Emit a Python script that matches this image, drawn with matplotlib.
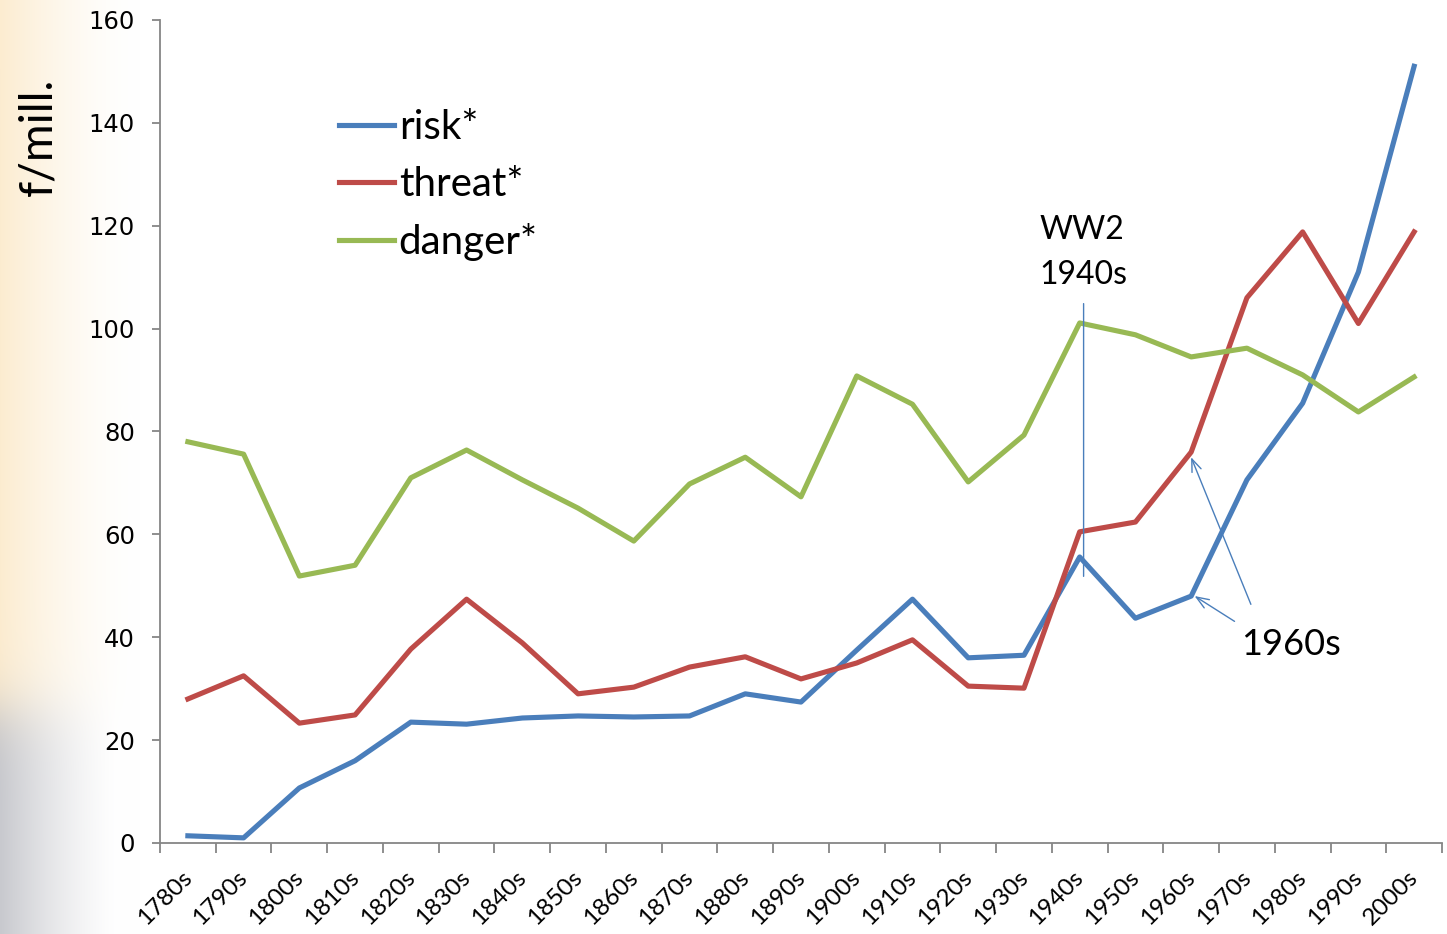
import numpy as np
import matplotlib as mpl
import matplotlib.pyplot as plt
from matplotlib.transforms import ScaledTranslation

mpl.use("agg")

decades = ["1780s", "1790s", "1800s", "1810s", "1820s", "1830s", "1840s", "1850s",
           "1860s", "1870s", "1880s", "1890s", "1900s", "1910s", "1920s", "1930s",
           "1940s", "1950s", "1960s", "1970s", "1980s", "1990s", "2000s"]
risk = [1.4, 1.0, 10.7, 16.0, 23.5, 23.1, 24.3, 24.7, 24.5, 24.7, 29.0, 27.4,
        37.5, 47.4, 36.0, 36.5, 55.6, 43.7, 48.0, 70.6, 85.5, 111.0, 151.0]
threat = [28.0, 32.5, 23.3, 24.9, 37.7, 47.4, 38.9, 29.0, 30.3, 34.2, 36.2, 31.9,
          35.0, 39.5, 30.5, 30.1, 60.5, 62.4, 76.0, 106.0, 118.8, 101.0, 118.8]
danger = [78.0, 75.6, 51.9, 54.0, 71.0, 76.4, 70.6, 65.1, 58.7, 69.8, 75.0, 67.3,
          90.8, 85.3, 70.2, 79.3, 101.1, 98.8, 94.5, 96.2, 91.0, 83.8, 90.6]
yticks = [0, 20, 40, 60, 80, 100, 120, 140, 160]

blue = "#4a7ebb"
red = "#be4b48"
green = "#98b954"
axis_grey = "#868686"

fig = plt.figure(figsize=(14.47, 9.34), dpi=100)

# faint slide background on the left edge, soft orange above, grey below
bg = fig.add_axes([0, 0, 1, 1], zorder=-10)
h, w = 934, 1447
xx = np.arange(w)[None, :].astype(float)
yy = np.arange(h)[:, None].astype(float)
top = 1 / (1 + np.exp((yy - 710) / 18.0))
fade_o = np.clip(1 - xx / 140.0, 0, 1) ** 1.6
fade_g = np.clip(1 - xx / 120.0, 0, 1) ** 1.4
orange = np.array([252, 236, 208]) / 255.0
grey = np.array([200, 201, 206]) / 255.0
img = np.ones((h, w, 3))
for c in range(3):
    img[:, :, c] -= top * fade_o * (1 - orange[c]) + (1 - top) * fade_g * (1 - grey[c])
bg.imshow(img, aspect="auto", extent=[0, 1, 0, 1])
bg.axis("off")

ax = fig.add_axes([160 / 1447, 91 / 934, 1282 / 1447, 823 / 934])
ax.patch.set_alpha(0)
x = np.arange(len(decades))
ax.plot(x, risk, color=blue, lw=3.7, label="risk*")
ax.plot(x, threat, color=red, lw=3.7, label="threat*")
ax.plot(x, danger, color=green, lw=3.7, label="danger*")

ax.set_xlim(-0.5, len(decades) - 0.5)
ax.set_ylim(0, 160)
ax.set_yticks(yticks)
ax.tick_params(axis="y", length=6, width=1.3, color=axis_grey, labelsize=17.5, pad=12)
ax.set_xticks(x)
ax.set_xticklabels(decades, rotation=45, ha="right", rotation_mode="anchor",
                   family="Lato", fontsize=17.5)
ax.tick_params(axis="x", which="major", length=0, pad=17)
shift = ScaledTranslation(-7 / 100, 0, fig.dpi_scale_trans)
for t in ax.get_xticklabels():
    t.set_transform(t.get_transform() + shift)
ax.set_xticks(np.arange(len(decades) + 1) - 0.5, minor=True)
ax.tick_params(axis="x", which="minor", length=7, width=1.3, color=axis_grey)
for s in ["top", "right"]:
    ax.spines[s].set_visible(False)
for s in ["left", "bottom"]:
    ax.spines[s].set_color(axis_grey)
    ax.spines[s].set_linewidth(1.3)

leg = ax.legend(loc="upper left", bbox_to_anchor=(0.14, 0.892), frameon=False,
                prop={"family": "Lato", "size": 29}, handlelength=1.35,
                handletextpad=0.12, labelspacing=0.5, borderpad=0, borderaxespad=0)

fig.text(38 / 1447, 1 - 137 / 934, "f/mill.", rotation=90, ha="center", va="center",
         family="Lato", fontsize=33)

# annotations
i40 = decades.index("1940s")
i60 = decades.index("1960s")
ax.annotate("", xy=(i40 + 0.07, risk[i40] - 4.3), xytext=(i40 + 0.07, 105.4),
            arrowprops=dict(arrowstyle="-", color=blue, lw=1.0))
ax.text(i40 - 0.72, 122, "WW2\n1940s", ha="left", va="top", family="Lato",
        fontsize=23, linespacing=1.6)
ax.annotate("", xy=(i60 - 0.02, threat[i60] - 0.5), xytext=(i60 + 1.09, 45.9),
            arrowprops=dict(arrowstyle="->,head_length=0.9,head_width=0.35",
                            color=blue, lw=1.0))
ax.annotate("", xy=(i60 + 0.02, risk[i60] + 0.3), xytext=(i60 + 0.82, 42.8),
            arrowprops=dict(arrowstyle="->,head_length=0.9,head_width=0.35",
                            color=blue, lw=1.0))
ax.text(i60 + 0.9, 38.5, "1960s", ha="left", va="center", family="Lato", fontsize=26)

fig.savefig("out.png", dpi=100)
